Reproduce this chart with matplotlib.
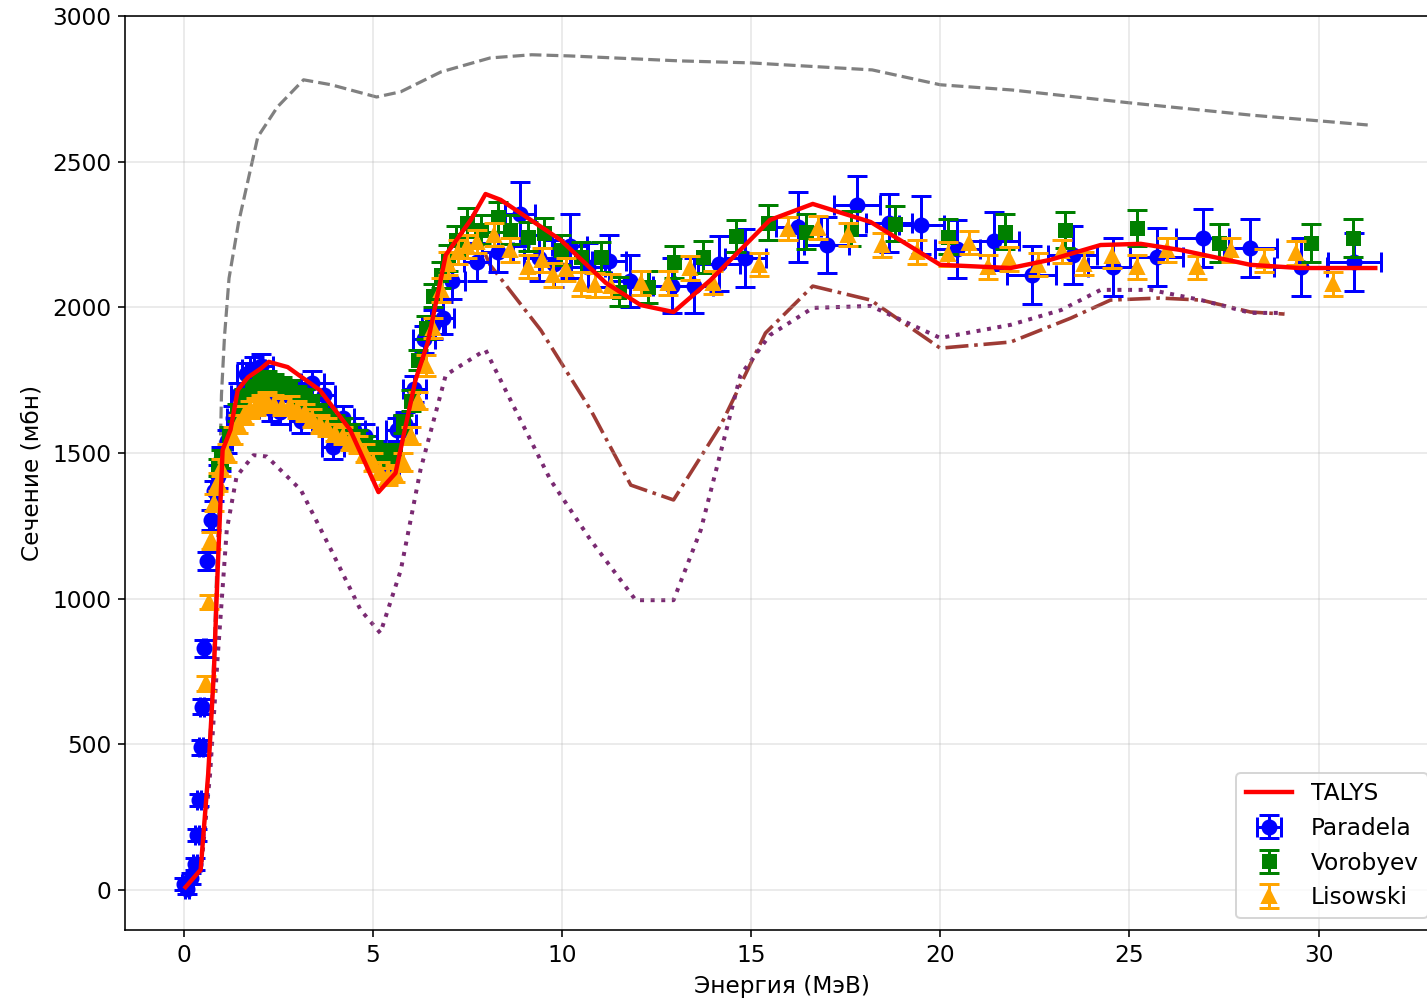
import matplotlib
matplotlib.use("Agg")
import matplotlib.pyplot as plt

# ---------------- data ----------------
talys_E = [0.05, 0.45, 0.65, 0.8, 0.9, 1.03, 1.24, 1.43, 1.7, 2.04, 2.25, 2.75, 3.6, 4.4, 5.15, 5.6,
           6.13, 6.45, 6.93, 7.59, 7.98, 8.38, 9.97, 11.16, 12.08, 12.95, 13.93, 15.5, 16.63,
           18.16, 20.0, 21.86, 22.9, 24.24, 25.3, 26.35, 28.2, 29.5, 31.5]
talys_xs = [10, 70, 400, 750, 1100, 1510, 1580, 1716, 1760, 1790, 1813, 1795, 1716, 1580, 1366, 1431,
            1751, 1878, 2180, 2300, 2389, 2369, 2231, 2084, 2008, 1984, 2094, 2300, 2355,
            2293, 2146, 2135, 2163, 2214, 2218, 2197, 2146, 2135, 2135]

total_E = [0.05, 0.45, 0.65, 0.8, 0.95, 1.0, 1.08, 1.2, 1.45, 1.64, 1.96, 2.48, 3.17, 3.9, 5.1,
           5.74, 6.8, 8.1, 9.2, 10.2, 13.1, 15.0, 18.2, 20.0, 21.9, 25.0, 28.2, 31.3]
total_xs = [10, 70, 400, 800, 1400, 1700, 1900, 2100, 2290, 2400, 2585, 2688, 2781, 2764, 2722,
            2740, 2808, 2856, 2867, 2863, 2846, 2839, 2815, 2764, 2746, 2702, 2660, 2626]

dashdot_E = [7.98, 8.1, 9.44, 10.76, 11.82, 12.95, 14.2, 15.38, 16.63, 18.16, 20.0, 21.86,
             23.45, 24.5, 25.8, 26.9, 28.2, 29.1]
dashdot_xs = [2180, 2146, 1922, 1648, 1390, 1339, 1596, 1912, 2073, 2025, 1860, 1881,
              1963, 2025, 2032, 2025, 1984, 1977]

dotted_E = [0.05, 0.45, 0.7, 0.9, 1.14, 1.4, 1.85, 2.2, 3.1, 3.9, 4.68, 5.2, 5.74, 6.26, 6.93,
            7.98, 8.64, 9.7, 10.76, 11.95, 12.95, 13.67, 14.72, 15.5, 16.63, 18.16, 20.0,
            21.86, 23.2, 24.24, 25.56, 26.9, 28.2, 29.1]
dotted_xs = [10, 60, 400, 800, 1236, 1420, 1493, 1488, 1373, 1167, 961, 882, 1098, 1442, 1768,
             1854, 1682, 1407, 1201, 995, 995, 1236, 1768, 1905, 1998, 2005, 1895,
             1940, 1991, 2060, 2060, 2025, 1981, 1981]

paradela_E = [0.0, 0.08, 0.2, 0.3, 0.36, 0.4, 0.45, 0.48, 0.55, 0.63, 0.72, 0.8, 0.9, 1.0, 1.15,
              1.3, 1.45, 1.65, 1.85, 2.05, 2.3, 2.55, 2.8, 3.1, 3.4, 3.7, 3.95, 4.2, 4.5, 4.8,
              5.1, 5.4, 5.65, 5.85, 6.1, 6.35, 6.6, 6.85, 7.1, 7.75, 8.3, 8.9, 9.4, 9.8, 10.2,
              10.7, 11.25, 11.8, 12.9, 13.5, 14.15, 14.85, 16.25, 17.0, 17.8, 18.65, 19.5,
              20.45, 21.42, 22.42, 23.5, 24.56, 25.72, 26.94, 28.2, 29.53, 30.95]
paradela_xs = [20, 5, 40, 90, 190, 310, 490, 630, 830, 1130, 1270, 1370, 1420, 1480, 1540,
               1620, 1700, 1770, 1790, 1800, 1650, 1640, 1700, 1610, 1740, 1700, 1520, 1620, 1580, 1560,
               1500, 1450, 1580, 1600, 1720, 1890, 1940, 1965, 2090, 2155, 2190, 2320, 2170, 2150, 2210,
               2140, 2160, 2090, 2075, 2075, 2150, 2170, 2275, 2214, 2350, 2290, 2283,
               2200, 2228, 2111, 2180, 2139, 2173, 2238, 2204, 2139, 2156]
paradela_dE = [0.05, 0.05, 0.05, 0.05, 0.05, 0.05, 0.05, 0.05, 0.05, 0.05, 0.06, 0.07, 0.08, 0.1, 0.12,
               0.15, 0.2, 0.25, 0.3, 0.3, 0.3, 0.3, 0.3, 0.3, 0.3, 0.3, 0.3, 0.3, 0.3, 0.3,
               0.3, 0.3, 0.3, 0.3, 0.3, 0.3, 0.3, 0.3, 0.35, 0.35, 0.4, 0.4, 0.4, 0.4, 0.45,
               0.45, 0.45, 0.5, 0.5, 0.5, 0.55, 0.55, 0.6, 0.6, 0.6, 0.6, 0.6,
               0.6, 0.65, 0.65, 0.65, 0.65, 0.7, 0.7, 0.7, 0.7, 0.7]
paradela_dxs = [20, 20, 20, 20, 20, 20, 25, 25, 30, 30, 35, 35, 40, 40, 40,
                40, 40, 40, 40, 40, 40, 40, 40, 40, 40, 40, 40, 40, 40, 40,
                40, 40, 40, 40, 45, 45, 50, 55, 60, 65, 70, 110, 80, 80, 110,
                80, 90, 90, 95, 95, 95, 100, 120, 95, 100, 100, 100,
                100, 100, 100, 100, 100, 100, 100, 100, 100, 100]

vorobyev_E = [0.9, 1.0, 1.2, 1.4, 1.6, 1.8, 2.0, 2.2, 2.4, 2.6, 2.8, 3.0, 3.2, 3.4, 3.6, 3.8,
              4.0, 4.2, 4.4, 4.6, 4.8, 5.0, 5.2, 5.4, 5.6, 5.8, 6.0, 6.2, 6.4, 6.6, 6.8, 7.0,
              7.2, 7.5, 7.85, 8.3, 8.64, 9.1, 9.52, 9.97, 10.5, 11.02, 11.5, 12.27, 12.95,
              13.72, 14.59, 15.46, 16.44, 17.63, 18.8, 20.2, 21.7, 23.3, 25.2, 27.36, 29.8, 30.9]
vorobyev_xs = [1450, 1480, 1560, 1640, 1690, 1720, 1740, 1750, 1740, 1730, 1720, 1700, 1690, 1670,
               1640, 1620, 1600, 1590, 1570, 1550, 1530, 1510, 1500, 1490, 1500, 1600, 1680, 1820,
               1930, 2040, 2110, 2170, 2230, 2290, 2266, 2310, 2266, 2242, 2255, 2197, 2173, 2173,
               2053, 2070, 2156, 2173, 2245, 2290, 2259, 2270, 2287, 2242, 2259, 2266, 2273,
               2221, 2221, 2238]
vorobyev_dxs = [30, 30, 30, 30, 30, 30, 30, 30, 30, 30, 30, 30, 30, 30, 30, 30,
                30, 30, 30, 30, 30, 30, 30, 30, 30, 30, 35, 35, 40, 40, 45, 45,
                50, 50, 50, 50, 50, 50, 50, 50, 50, 50, 50, 55, 55,
                55, 55, 60, 60, 60, 60, 60, 60, 62, 62, 64, 64, 66]

lisowski_E = [0.58, 0.66, 0.72, 0.8, 0.9, 1.0, 1.15, 1.3, 1.45, 1.6, 1.75, 1.9, 2.05, 2.2, 2.4,
              2.6, 2.8, 3.0, 3.2, 3.4, 3.6, 3.8, 4.0, 4.2, 4.4, 4.6, 4.8, 5.0, 5.2, 5.4, 5.6,
              5.8, 6.0, 6.2, 6.4, 6.6, 6.8, 7.0, 7.25, 7.5, 7.75, 8.2, 8.64, 9.1, 9.47, 9.77,
              10.12, 10.5, 10.88, 11.29, 12.08, 12.8, 13.38, 13.99, 15.2, 15.97, 16.76, 17.57,
              18.45, 19.39, 20.2, 20.75, 21.27, 21.83, 22.58, 23.23, 23.8, 24.53, 25.2, 26.0,
              26.79, 27.68, 28.57, 29.41, 30.38]
lisowski_xs = [710, 989, 1200, 1330, 1400, 1450, 1500, 1560, 1600, 1630, 1650, 1660, 1670, 1680,
               1670, 1660, 1665, 1650, 1640, 1620, 1600, 1590, 1570, 1560, 1540, 1530, 1500, 1470,
               1440, 1420, 1430, 1470, 1560, 1680, 1800, 1930, 2060, 2150, 2190, 2210, 2225, 2250,
               2197, 2140, 2163, 2111, 2130, 2080, 2077, 2075, 2084, 2084, 2135, 2085, 2146, 2270,
               2273, 2249, 2214, 2190, 2183, 2222, 2139, 2166, 2147, 2192, 2150, 2176, 2139, 2197,
               2137, 2197, 2160, 2187, 2080]
lisowski_dxs = [25, 25, 30, 30, 30, 30, 30, 30, 30, 30, 30, 30, 30, 30, 30,
                30, 30, 30, 30, 30, 30, 30, 30, 30, 30, 30, 30, 30, 30, 30, 30,
                30, 30, 30, 35, 35, 40, 40, 40, 40, 40, 40, 40, 40, 40, 40,
                40, 40, 40, 40, 40, 40, 40, 40, 40, 40, 40, 40,
                40, 40, 40, 40, 40, 40, 40, 40, 40, 40, 40, 40,
                40, 40, 40, 40, 40]

x_ticks = [0, 5, 10, 15, 20, 25, 30]
y_ticks = [0, 500, 1000, 1500, 2000, 2500, 3000]

# ---------------- plot ----------------
plt.rcParams['font.size'] = 11.6
W, H, DPI = 1427, 1002, 144
fig = plt.figure(figsize=(W / DPI, H / DPI), dpi=DPI)
ax = fig.add_axes([125 / W, 72 / H, 1314.6 / W, 914 / H])

ax.plot(total_E, total_xs, '--', color='gray', lw=1.6, zorder=1)
ax.plot(dashdot_E, dashdot_xs, '-.', color='#9e3b35', lw=1.8, zorder=1)
ax.plot(dotted_E, dotted_xs, ':', color='#7a2a72', lw=2.0, zorder=1)

ax.errorbar(paradela_E, paradela_xs, xerr=paradela_dE, yerr=paradela_dxs, fmt='o',
            color='blue', ms=7, capsize=5, elinewidth=1.5, capthick=1.5, label='Paradela', zorder=2)
ax.errorbar(vorobyev_E, vorobyev_xs, yerr=vorobyev_dxs, fmt='s',
            color='green', ms=6.5, capsize=5, elinewidth=1.5, capthick=1.5, label='Vorobyev', zorder=3)
ax.errorbar(lisowski_E, lisowski_xs, yerr=lisowski_dxs, fmt='^',
            color='orange', ms=7, capsize=5, elinewidth=1.5, capthick=1.5, label='Lisowski', zorder=4)

ax.plot(talys_E, talys_xs, '-', color='red', lw=2.2, label='TALYS', zorder=5)

ax.set_xlim(-1.55, 33.2)
ax.set_ylim(-137, 3000)
ax.set_xticks(x_ticks)
ax.set_yticks(y_ticks)
ax.grid(True, alpha=0.3)
ax.set_xlabel('Энергия (МэВ)')
ax.set_ylabel('Сечение (мбн)')
ax.legend(loc='lower right')

fig.savefig('out.png', dpi=DPI)
